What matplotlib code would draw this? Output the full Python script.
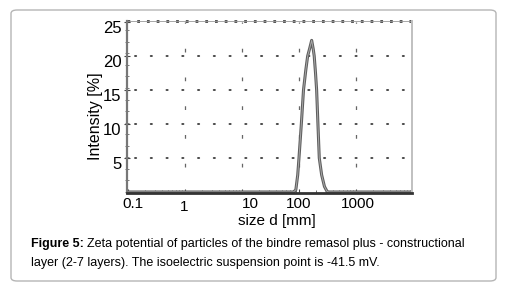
import matplotlib
matplotlib.use("Agg")
import matplotlib.pyplot as plt
from matplotlib.patches import FancyBboxPatch
from matplotlib.transforms import ScaledTranslation
import numpy as np

plt.rcParams['font.family'] = ['Liberation Sans', 'DejaVu Sans']

# size distribution
size_nm = [0.09, 80, 88, 95, 100, 110, 120, 132, 142, 155, 167, 178, 185, 195, 204, 215, 227, 250, 280, 310, 330, 10000]
intensity = [0, 0, 0.3, 2.5, 5, 10, 15, 18, 20, 21.2, 22.3, 21.0, 20, 17.5, 15, 10, 5, 2.5, 0.8, 0.1, 0, 0]

x_ticks = [0.1, 1, 10, 100, 1000]
x_labels = ['0.1', '1', '10', '100', '1000']
y_ticks = [5, 10, 15, 20, 25]
grid_y = [5, 10, 15, 20]
grid_x = [1, 10, 100, 1000]

fig = plt.figure(figsize=(5.14, 2.90), dpi=100)
W, H = 514, 290

box = FancyBboxPatch((11/W, 1-281/H), (496-11)/W, (281-10)/H,
                     boxstyle="round,pad=0,rounding_size=0.012",
                     transform=fig.transFigure, fc='none', ec='#b5b5b5', lw=1.0)
fig.patches.append(box)

ax = fig.add_axes([127/W, 1-193/H, (412-127)/W, (193-21)/H])
ax.set_xscale('log')
ax.set_xlim(0.096, 9620)
ax.set_ylim(-0.15, 25.15)

for gy in grid_y:
    ax.plot([0.13, 8000], [gy, gy], color='#4a4a4a', lw=1.4,
            linestyle=(0, (0.6, 7.5)), dash_capstyle='round')
for gx in grid_x:
    ax.plot([gx, gx], [0, 25], color='#666666', lw=0.9, linestyle=(3, (3, 20)))

ax.plot(size_nm, intensity, color='#5e5e5e', lw=2.2)
ax.plot(size_nm, intensity, color='#a8a8a8', lw=0.7)

ax.set_xticks(x_ticks)
ax.set_xticklabels(x_labels)
ax.set_yticks(y_ticks)
ax.yaxis.set_minor_locator(matplotlib.ticker.MultipleLocator(1.7))
ax.tick_params(axis='x', which='major', labelsize=11, direction='in', length=3, color='#444444', pad=3)
ax.tick_params(axis='y', which='major', labelsize=12, direction='inout', length=4, color='#444444', pad=2)
ax.tick_params(axis='x', which='minor', direction='in', length=2, color='#555555')
ax.tick_params(axis='y', which='minor', direction='inout', length=3, color='#666666', labelleft=False)

# label nudges as in the scanned original
x_shift = [5, -1, 8, 0, 2]
x_drop = [0, -3, 0, 0, 0]
for lab, dx, dy in zip(ax.get_xticklabels(), x_shift, x_drop):
    lab.set_transform(lab.get_transform() + ScaledTranslation(dx/100, dy/100, fig.dpi_scale_trans))
for lab in ax.get_yticklabels():
    lab.set_transform(lab.get_transform() + ScaledTranslation(0, -5/100, fig.dpi_scale_trans))

# dotted top border
ax.spines['top'].set_visible(False)
ax.plot([0.096, 9620], [25.15, 25.15], color='#444444', lw=2.0,
        linestyle=(0, (1, 2.5)), clip_on=False)
ax.plot([0.096, 9620], [25.15, 25.15], color='#999999', lw=0.6, clip_on=False)
ax.spines['bottom'].set_linewidth(2.0)
ax.spines['bottom'].set_color('#333333')
ax.spines['left'].set_linewidth(1.6)
ax.spines['left'].set_color('#777777')
ax.spines['right'].set_linewidth(1.4)
ax.spines['right'].set_color('#c0c0c0')

ax.set_xlabel('size d [mm]', fontsize=11)
ax.xaxis.set_label_coords(0.526, -0.125)
ax.set_ylabel('Intensity [%]', fontsize=11.5)
ax.yaxis.set_label_coords(-0.111, 0.445)
ax.yaxis.label.set_va('center')

# caption, bold prefix then regular text
fig.canvas.draw()
r = fig.canvas.get_renderer()
t1 = fig.text(31/W, 1-244/H, 'Figure 5:', fontsize=9, fontweight='bold', va='center', ha='left')
bb = t1.get_window_extent(renderer=r)
fig.text(bb.x1/fig.bbox.width + 3/W, 1-244/H,
         'Zeta potential of particles of the bindre remasol plus - constructional',
         fontsize=9, va='center', ha='left')
fig.text(31/W, 1-263/H,
         'layer (2-7 layers). The isoelectric suspension point is -41.5 mV.',
         fontsize=9, va='center', ha='left')

fig.savefig('out.png', dpi=100)
